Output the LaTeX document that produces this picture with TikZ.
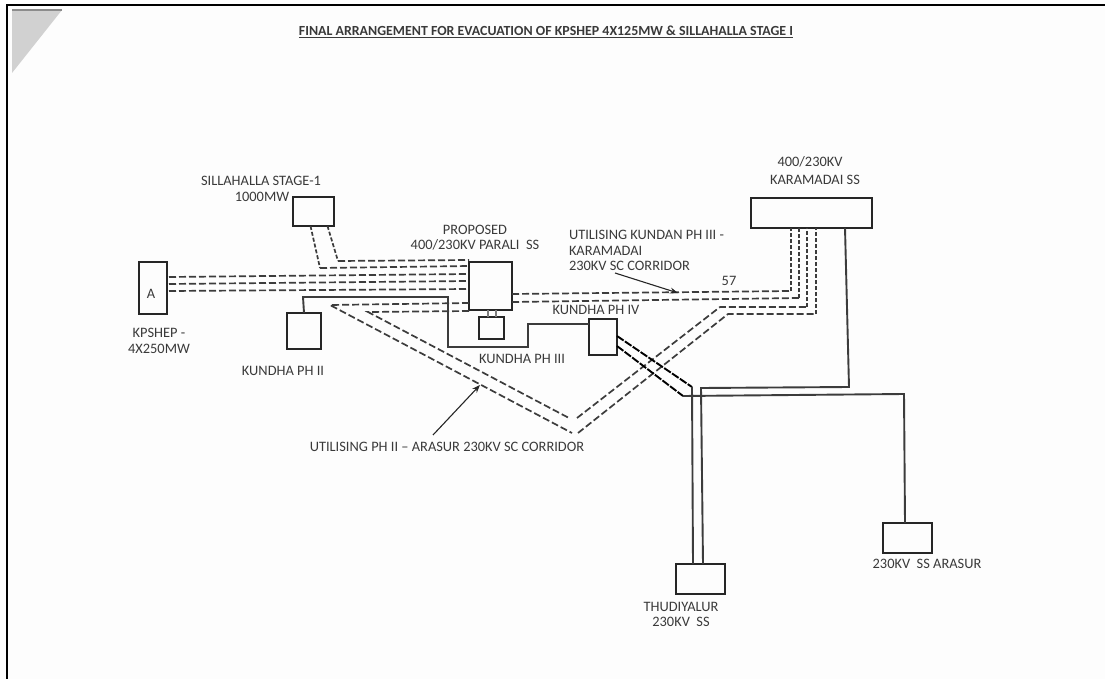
\documentclass[tikz,border=0pt]{standalone}
\usepackage{fontspec}
\setmainfont{Carlito}
\usetikzlibrary{arrows.meta}
\definecolor{ink}{HTML}{262626}
\definecolor{txt}{HTML}{3A3A3A}
\definecolor{paper}{HTML}{FDFDFD}
\tikzset{
 bx/.style={draw=ink,line width=2pt,fill=none,inner sep=0pt,outer sep=0pt},
 lb/.style={text=txt,font=\fontsize{14.4}{16}\selectfont,inner sep=0pt,outer sep=0pt,align=center},
 dl/.style={draw=ink!90,line width=1.7pt,dash pattern=on 7pt off 3pt},
 dv/.style={draw=ink!90,line width=1.7pt,dash pattern=on 4pt off 2pt},
 dk/.style={draw=black,line width=1.9pt,dash pattern=on 8pt off 1.5pt},
 sl/.style={draw=ink!90,line width=1.9pt,line join=miter},
 ar/.style={draw=ink,line width=1.1pt,-{Stealth[length=8pt,width=6pt]}},
}
\begin{document}
\begin{tikzpicture}[x=1pt,y=-1pt]
\useasboundingbox (0,0) rectangle (1105,679);
\fill[paper] (0,0) rectangle (1105,679);
\fill[white] (0,0) rectangle (1105,5);
% frame and scan corner
\coordinate (fl) at (7,679); \coordinate (fc) at (7,5); \coordinate (fr) at (1105,5);
\draw[black,line width=2pt] (fl) -- (fc) -- (fr);
\coordinate (t1) at (12,10); \coordinate (t2) at (62,10); \coordinate (t3) at (12,73);
\fill[black!18] (t1) -- (t2) -- (t3) -- cycle;
\draw[black!45,line width=1.5pt] (t1) -- (t2);
% boxes
\node[bx,minimum width=28pt,minimum height=52pt] (a) at (153,288) {};
\node[bx,minimum width=41pt,minimum height=29pt] (sil) at (313.5,211.5) {};
\node[bx,minimum width=43pt,minimum height=48pt] (par) at (490.5,286) {};
\node[bx,minimum width=25pt,minimum height=22pt] (k3) at (491.5,328) {};
\node[bx,minimum width=34pt,minimum height=36pt] (k2) at (304,331) {};
\node[bx,minimum width=121pt,minimum height=30pt] (kar) at (811.5,213) {};
\node[bx,minimum width=28pt,minimum height=36pt] (k4) at (603,337) {};
\node[bx,minimum width=49pt,minimum height=30pt] (thu) at (700.5,579) {};
\node[bx,minimum width=49pt,minimum height=30pt] (ara) at (907.5,538) {};
% labels
\node[lb,font=\fontsize{13.9}{16}\selectfont\bfseries] (title) at (546,32) {\underline{FINAL ARRANGEMENT FOR EVACUATION OF KPSHEP 4X125MW \& SILLAHALLA STAGE I}};
\node[lb] (l1) at (261,181) {SILLAHALLA STAGE-1};
\node[lb] (l2) at (262,197) {1000MW};
\node[lb] (l3) at (475,230) {PROPOSED};
\node[lb] (l4) at (475,245) {400/230KV PARALI\ \ SS};
\node[lb] (l5) at (159,333) {KPSHEP -};
\node[lb] (l6) at (159,349) {4X250MW};
\node[lb] (l7) at (283,371) {KUNDHA PH II};
\node[lb] (l8) at (810,162) {400/230KV};
\node[lb] (l9) at (815,180) {KARAMADAI SS};
\node[lb,anchor=west,align=left] (l10) at (569,250) {UTILISING KUNDAN PH III -\\KARAMADAI\\[-1pt]230KV SC CORRIDOR};
\node[lb] (l11) at (729,281) {57};
\node[lb] (l12) at (596,310) {KUNDHA PH IV};
\node[lb] (l13) at (522,359) {KUNDHA PH III};
\node[lb] (l14) at (447,447) {UTILISING PH II – ARASUR 230KV SC CORRIDOR};
\node[lb] (l15) at (681,607) {THUDIYALUR};
\node[lb] (l16) at (681,622) {230KV\ \ SS};
\node[lb] (l17) at (927,564) {230KV\ \ SS ARASUR};
\node[lb] (la) at (151,294) {A};
% junctions
\coordinate (s1) at (338,261); \coordinate (s2) at (320,268);
\coordinate (d1) at (330,305); \coordinate (d2) at (368,312);
\coordinate (v1) at (569,418); \coordinate (v2) at (572,433);
\coordinate (w1) at (577,418); \coordinate (w2) at (578,433);
\coordinate (c1) at (791,291); \coordinate (c2) at (799,298);
\coordinate (c3) at (807,307); \coordinate (c4) at (816,314);
\coordinate (e3) at (720,307); \coordinate (e4) at (728,314);
\coordinate (m1) at (303,297); \coordinate (m2) at (448,297); \coordinate (m3) at (448,347);
\coordinate (m4) at (528,347); \coordinate (m5) at (528,324);
\coordinate (j1) at (692,387); \coordinate (j2) at (683,396);
\coordinate (r1) at (849,387); \coordinate (r2) at (701,388);
\coordinate (r3) at (904,394);
% dashed corridors
\draw[dl] ([yshift=11pt]a.east) ++(2,0) -- ([yshift=12pt]par.west);
\draw[dl] ([yshift=4pt]a.east) ++(2,0) -- ([yshift=5pt]par.west);
\draw[dl] ([yshift=-3pt]a.east) ++(2,0) -- ([yshift=-3pt]par.west);
\draw[dv] ([xshift=14pt]sil.south) -- (s1);
\draw[dl] (s1) -- ([yshift=26pt]par.west);
\draw[dv] ([xshift=-3pt]sil.south) -- (s2);
\draw[dl] (s2) -- ([yshift=20pt]par.west);
\draw[dl] ([yshift=-17pt]par.west) -- (d1) -- (v2);
\draw[dl] ([yshift=-25pt]par.west) -- (d2) -- (v1);
\draw[dl] ([yshift=-8pt]par.east) -- (c1);
\draw[dv] (c1) -- ([xshift=-20.5pt]kar.south);
\draw[dl] ([yshift=-16pt]par.east) -- (c2);
\draw[dv] (c2) -- ([xshift=-12.5pt]kar.south);
\draw[dl] (w1) -- (e3) -- (c3);
\draw[dv] (c3) -- ([xshift=-4.5pt]kar.south);
\draw[dl] (w2) -- (e4) -- (c4);
\draw[dv] (c4) -- ([xshift=4.5pt]kar.south);
% solid links
\draw[sl] (k2.north) -- (m1) -- (m2) -- (m3) -- (m4) -- (m5) -- ([yshift=13pt]k4.west);
\draw[sl,draw=ink!60,line width=1.1pt] ([xshift=-3.5pt]k3.north) -- ([xshift=-3.5pt,yshift=7pt]k3.north);
\draw[sl,draw=ink!60,line width=1.1pt] ([xshift=4.5pt]k3.north) -- ([xshift=4.5pt,yshift=7pt]k3.north);
\draw[dk] ([yshift=1pt]k4.east) -- (j1);
\draw[dk] ([yshift=-9pt]k4.east) -- (j2);
\draw[sl] ([xshift=33.5pt]kar.south) -- (r1) -- (r2) -- ([xshift=2.5pt]thu.north);
\draw[sl] (j1) -- ([xshift=-7.5pt]thu.north);
\draw[sl] (j2) -- (r3) -- ([xshift=-2.5pt]ara.north);
% callouts
\coordinate (a1) at (615,273); \coordinate (a2) at (678,293);
\coordinate (b1) at (433,435); \coordinate (b2) at (480,385);
\draw[ar] (a1) -- (a2);
\draw[ar] (b1) -- (b2);
\end{tikzpicture}
\end{document}
